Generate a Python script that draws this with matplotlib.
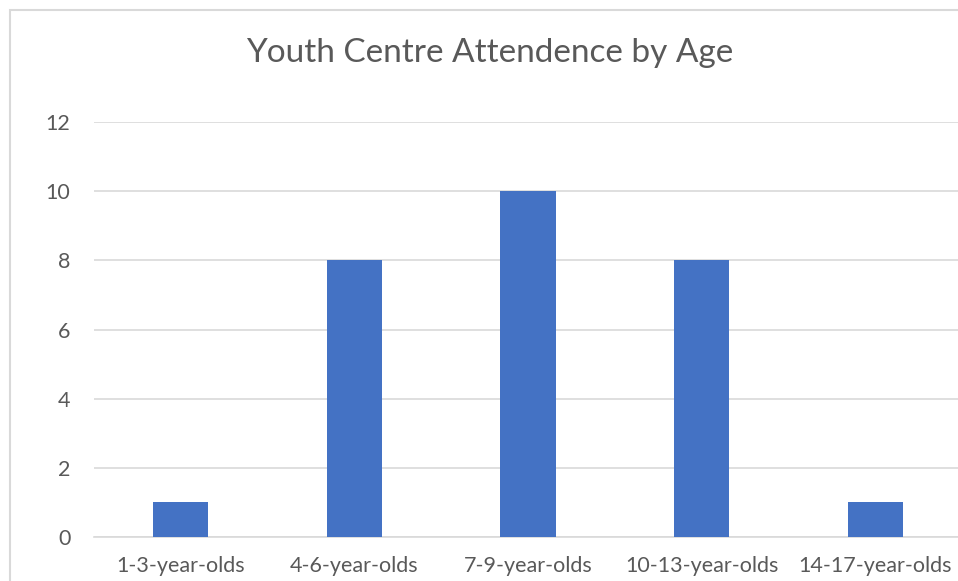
import matplotlib
matplotlib.use("Agg")
import matplotlib.pyplot as plt
from matplotlib.patches import Rectangle

categories = ["1-3-year-olds", "4-6-year-olds", "7-9-year-olds", "10-13-year-olds", "14-17-year-olds"]
values = [1, 8, 10, 8, 1]
yticks = [0, 2, 4, 6, 8, 10, 12]
title = "Youth Centre Attendence by Age"

plt.rcParams['font.family'] = ['Lato', 'DejaVu Sans']
W, H = 958, 581
fig = plt.figure(figsize=(W/100, H/100), dpi=100)
fig.patch.set_facecolor('white')

# outer chart border (cut off at right and bottom)
fig.patches.append(Rectangle((10/W, -0.05), 1.2, 1 - 10/H + 0.05, transform=fig.transFigure,
                             fill=False, edgecolor='#d9d9d9', linewidth=1.5))

ax = fig.add_axes([94/W, 44/H, 868/W, 415/H])
x = range(len(categories))
ax.bar(x, values, width=0.317, color='#4472c4', zorder=3)
ax.set_xlim(-0.5, len(categories) - 0.5)
ax.set_ylim(0, 12)
ax.set_yticks(yticks)
ax.set_xticks(list(x))
ax.set_xticklabels(categories)
ax.grid(axis='y', color='#d9d9d9', linewidth=1.2, zorder=0)
for s in ['top', 'right', 'left']:
    ax.spines[s].set_visible(False)
ax.spines['bottom'].set_color('#d9d9d9')
ax.spines['bottom'].set_linewidth(1.2)
ax.tick_params(axis='both', length=0, colors='#595959', labelsize=15.5)
ax.tick_params(axis='y', pad=17)
ax.tick_params(axis='x', pad=14)
ax.set_facecolor('none')

fig.text(490/W, 1 - 53/H, title, ha='center', va='center', fontsize=24, color='#595959')

fig.savefig('out.png', dpi=100)
